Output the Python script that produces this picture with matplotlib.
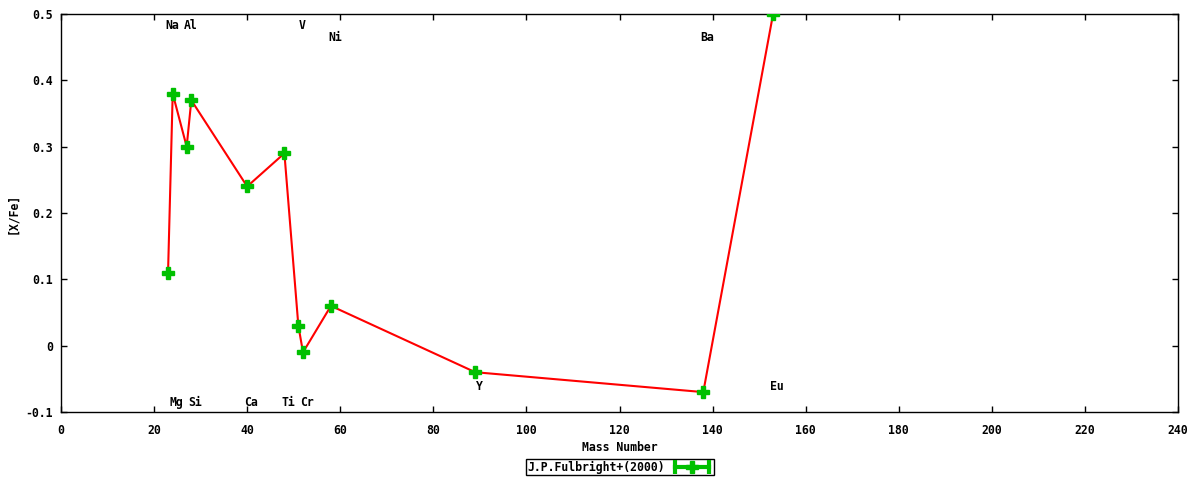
import numpy as np
import matplotlib.pyplot as plt
from matplotlib.lines import Line2D
from matplotlib.legend_handler import HandlerLine2D, HandlerTuple

# Fulbright (2000) abundance ratios vs mass number
elements = ['Na', 'Mg', 'Al', 'Si', 'Ca', 'Ti', 'V', 'Cr', 'Ni', 'Y', 'Ba', 'Eu']
mass = [23, 24, 27, 28, 40, 48, 51, 52, 58, 89, 138, 153]
xfe = [0.11, 0.38, 0.30, 0.37, 0.24, 0.29, 0.03, -0.01, 0.06, -0.04, -0.07, 0.50]
# y position of the element name labels
label_y = [0.482, -0.085, 0.482, -0.085, -0.085, -0.085, 0.482, -0.085, 0.464, -0.061, 0.464, -0.061]

plt.rcParams['font.family'] = 'DejaVu Sans Mono'
plt.rcParams['font.weight'] = 'bold'
plt.rcParams['font.size'] = 8

fig = plt.figure(figsize=(12, 4.8), dpi=100)
ax = fig.add_axes([61 / 1200, 68 / 480, 1117 / 1200, 398 / 480])

ax.plot(mass, xfe, color='red', lw=1.5, zorder=2)
ax.plot(mass, xfe, ls='none', marker='P', ms=9, color='#00c000', mec='#00c000', zorder=3)

for el, m, ly in zip(elements, mass, label_y):
    ax.annotate(el, (m, ly), xytext=(3, 0), textcoords='offset points',
                ha='center', va='center', fontsize=8.3, fontweight='bold')

ax.set_xlim(0, 240)
ax.set_ylim(-0.1, 0.5)
ax.set_xticks(np.arange(0, 241, 20))
ax.set_yticks([-0.1, 0, 0.1, 0.2, 0.3, 0.4, 0.5])
ax.set_yticklabels(['-0.1', '0', '0.1', '0.2', '0.3', '0.4', '0.5'])
ax.tick_params(direction='in', top=True, right=True, length=4, width=1, pad=6, labelsize=8.3)
ax.tick_params(axis='x', pad=9)
for s in ax.spines.values():
    s.set_linewidth(1)

ax.set_xlabel('Mass Number', fontsize=8.3, fontweight='bold', labelpad=2.5)
ax.set_ylabel('[X/Fe]', fontsize=8.3, fontweight='bold', labelpad=4)

# legend sample: green line with end caps and a plus in the middle
caps = Line2D([0], [0], color='#00c000', lw=3, marker='|', ms=10, mew=3)
mid = Line2D([0], [0], color='#00c000', lw=0, marker='P', ms=9)
fig.legend([(caps, mid)], ['J.P.Fulbright+(2000)'], loc='center', bbox_to_anchor=(620 / 1200, 13 / 480),
           handler_map={caps: HandlerLine2D(numpoints=2), mid: HandlerLine2D(numpoints=1),
                        tuple: HandlerTuple(ndivide=1)},
           markerfirst=False, fancybox=False, edgecolor='black', framealpha=1,
           borderpad=0.15, handlelength=3.5, handletextpad=0.6, fontsize=8.3, borderaxespad=0)

fig.savefig('out.png', dpi=100)
